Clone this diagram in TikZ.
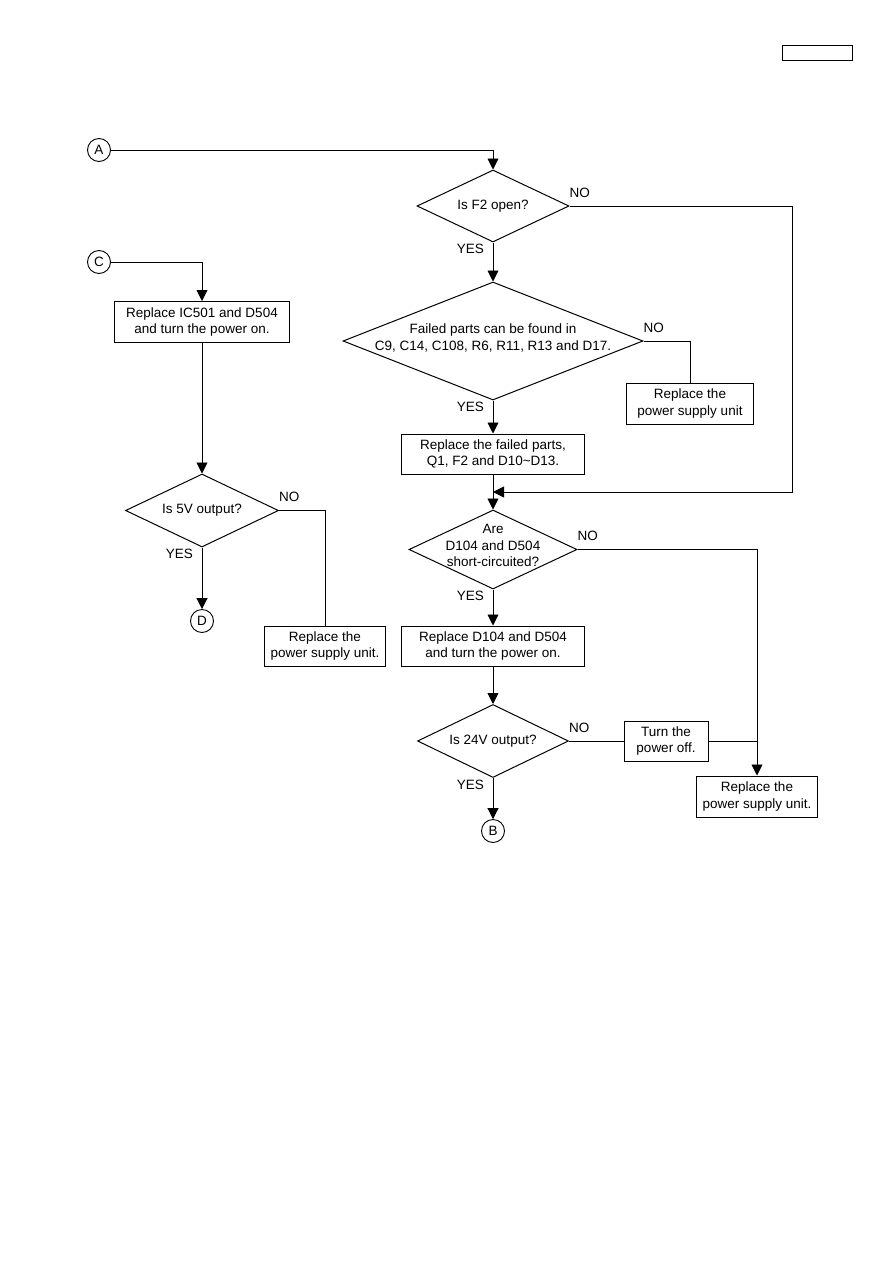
\documentclass[tikz,border=0pt]{standalone}
\usepackage{fontspec}
\setmainfont{Liberation Sans}
\usetikzlibrary{arrows.meta,shapes.geometric,calc}

% Box macro (name, centre, width, height, text)
\newcommand{\pbox}[5]{%
  \node[pbx, minimum width=#3pt, minimum height=#4pt] (#1) at (#2) {#5};}
% Decision macro (name, centre, width, height, text, text shift)
\newcommand{\qdia}[6]{%
  \node[dec, minimum width=#3pt, minimum height=#4pt] (#1) at (#2) {};
  \node[txt] (#1t) at ($(#1)+(0,#6)$) {#5};}

\begin{document}
\begin{tikzpicture}[x=1pt,y=-1pt,
  txt/.style={font=\fontsize{13.5}{16.5}\selectfont, align=center, inner sep=0pt},
  pbx/.style={txt, draw, line width=1pt},
  dec/.style={draw, diamond, inner sep=0pt, line width=1pt},
  con/.style={txt, draw, circle, minimum size=23pt, line width=0.9pt},
  lnk/.style={line width=0.9pt},
  arr/.style={lnk, -{Triangle[length=11pt,width=11pt]}}]

% ---- page frame ----
\useasboundingbox (0,0) rectangle (893,1263);
\draw[line width=1pt] (782,46) rectangle (852,61);

% ---- connectors (entry / exit points) ----
\node[con] (A) at (99,150) {A};
\node[con] (C) at (99,262) {C};
\node[con] (D) at (202,621) {D};
\node[con] (B) at (493,831) {B};

% ---- right column ----
\qdia{q1}{493,206}{152}{72}{Is F2 open?}{0}
\qdia{q2}{493,341}{300}{118}{Failed parts can be found in\\C9, C14, C108, R6, R11, R13 and D17.}{-3}
\pbox{b2}{690,403.5}{127}{41}{Replace the\\power supply unit}
\pbox{b3}{493,454}{183}{40}{Replace the failed parts,\\Q1, F2 and D10\char`~D13.}
\qdia{q3}{493,549.5}{168}{79}{Are\\D104 and D504\\short-circuited?}{-4}
\pbox{b4}{493,646}{183}{40}{Replace D104 and D504\\and turn the power on.}
\qdia{q4}{493,741}{151}{73}{Is 24V output?}{0}
\pbox{b5}{666,741}{84}{40}{Turn the\\power off.}
\pbox{b6}{757,796.5}{121}{41}{Replace the\\power supply unit.}

% ---- left column ----
\pbox{b1}{202,322}{175}{41}{Replace IC501 and D504\\and turn the power on.}
\qdia{q5}{202,510.5}{153}{73}{Is 5V output?}{0}
\pbox{b7}{325,646}{121}{40}{Replace the\\power supply unit.}

% YES / NO labels
\foreach \q in {q1,q2,q3,q4,q5}{
  \node[txt, anchor=base west] at ($(\q.east)+(0,-9)$) {NO};
  \node[txt, anchor=base east] at ($(\q.south)+(-9,11)$) {YES};
}

% ---- flow lines ----
\coordinate (rtop) at (792,206);
\coordinate (mg) at (493,492);
\coordinate (jn) at (b6.north |- b5.east);

\draw[arr] (A.east) -| (q1.north);
\draw[arr] (q1.south) -- (q2.north);
\draw[arr] (q1.east) -- (rtop) |- (mg);
\draw[lnk] (q2.east) -| (b2.north);
\draw[arr] (q2.south) -- (b3.north);
\draw[arr] (b3.south) -- (q3.north);
\draw[arr] (q3.east) -| (b6.north);
\draw[arr] (q3.south) -- (b4.north);
\draw[arr] (b4.south) -- (q4.north);
\draw[lnk] (q4.east) -- (b5.west);
\draw[lnk] (b5.east) -- (jn);
\draw[arr] (q4.south) -- (B.north);

\draw[arr] (C.east) -| (b1.north);
\draw[arr] (b1.south) -- (q5.north);
\draw[lnk] (q5.east) -| (b7.north);
\draw[arr] (q5.south) -- (D.north);

\end{tikzpicture}
\end{document}
